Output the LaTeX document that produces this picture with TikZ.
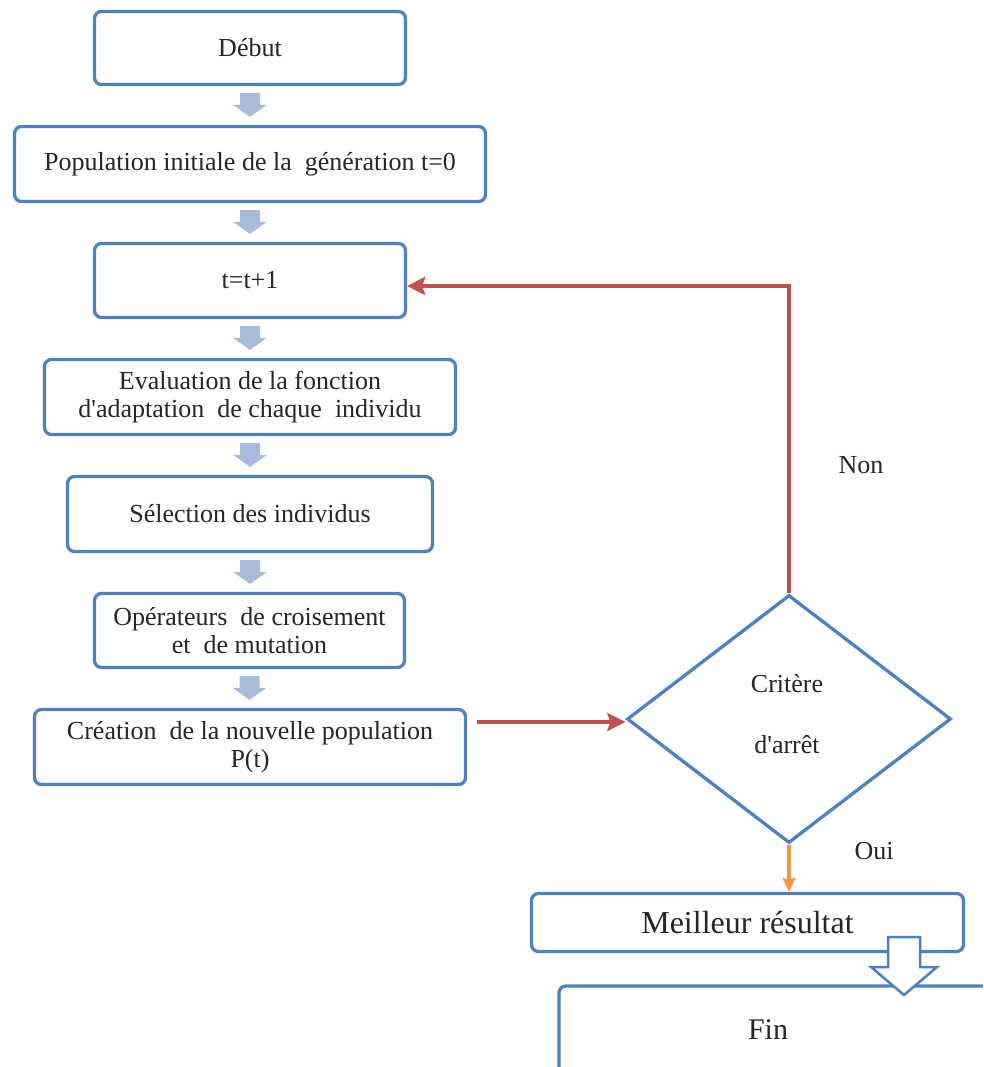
\documentclass[tikz,border=0pt]{standalone}
\usepackage{fontspec}
\setmainfont{Liberation Serif}
\usetikzlibrary{shapes.geometric,arrows.meta,calc}
\definecolor{boxblue}{RGB}{79,129,189}
\definecolor{lightarrow}{RGB}{167,188,221}
\definecolor{redline}{RGB}{192,80,77}
\definecolor{orangeline}{RGB}{247,150,70}
\definecolor{txt}{RGB}{38,38,38}
\newcommand\blkarrow[2]{%
  \path let \p1=(#1.south), \p2=(#2.north) in
    [fill=lightarrow] (\x1-10pt,\y1-7pt) -- (\x1+10pt,\y1-7pt) -- (\x1+10pt,\y2+20pt)
    -- (\x1+17pt,\y2+20pt) -- (\x1,\y2+8pt) -- (\x1-17pt,\y2+20pt) -- (\x1-10pt,\y2+20pt) -- cycle;}
\newcommand\sq{\textquotesingle}
\begin{document}
\begin{tikzpicture}[x=1pt,y=-1pt,
  box/.style={draw=boxblue, line width=3.3pt, rounded corners=7pt, fill=white,
    align=center, inner sep=0pt, text=txt, font=\fontsize{26}{27.5}\selectfont},
  lbl/.style={text=txt, font=\fontsize{26}{28}\selectfont, inner sep=0pt},
  decision/.style={diamond, draw=boxblue, line width=3.3pt, fill=white, inner sep=0pt},
  redarrow/.style={draw=redline, line width=4pt, -{Stealth[length=18pt,width=18pt,inset=3pt]}},
  orangearrow/.style={draw=orangeline, line width=3.5pt, -{Stealth[length=14pt,width=13pt,inset=2pt]}}
]
\useasboundingbox (0,0) rectangle (983,1067);
\clip (0,0) rectangle (983,1067);

\node[box, minimum width=311pt, minimum height=73pt] (deb) at (250,48) {Début};
\node[box, minimum width=471pt, minimum height=75pt] (pop) at (250,164) {Population initiale de la \ génération t=0};
\node[box, minimum width=311pt, minimum height=74pt] (tpl) at (250,280.5) {t=t+1};
\node[box, minimum width=411pt, minimum height=75pt] (eva) at (250,397) {Evaluation de la fonction\\d\sq adaptation \ de chaque \ individu};
\node[box, minimum width=365pt, minimum height=75pt] (sel) at (250,514) {Sélection des individus};
\node[box, minimum width=310pt, minimum height=74pt] (ope) at (249.5,630.5) {Opérateurs \ de croisement\\et \ de mutation};
\node[box, minimum width=431pt, minimum height=75pt] (cre) at (250,747) {Création \ de la nouvelle population\\P(t)};
\node[decision, minimum width=324pt, minimum height=248pt] (dia) at (789,719) {};
\node[box, minimum width=432pt, minimum height=58pt, font=\fontsize{32}{34}\selectfont] (mr) at (747.5,922.5) {Meilleur résultat};
\node[box, minimum width=450pt, minimum height=88pt, font=\fontsize{30}{32}\selectfont] (fin) at (784,1030) {Fin\hspace*{32pt}};

\node[lbl] (crit) at (787,684) {Critère};
\node[lbl] (arret) at (787,745) {d\sq arrêt};
\node[lbl] (non) at (861,465) {Non};
\node[lbl] (oui) at (874,851) {Oui};

\blkarrow{deb}{pop}
\blkarrow{pop}{tpl}
\blkarrow{tpl}{eva}
\blkarrow{eva}{sel}
\blkarrow{sel}{ope}
\blkarrow{ope}{cre}

\draw[redarrow] (dia.north) |- ($(tpl.east)+(0,5.5)$);
\draw[redarrow] ($(cre.east |- dia.west)+(9.5,3)$) -- ($(dia.west)+(0,3)$);
\draw[orangearrow] (dia.south) -- (dia.south |- mr.north);

\draw[draw=boxblue, line width=2.5pt, fill=white, line join=miter]
  (888,937) -- (920,937) -- (920,967) -- (937,967) -- (904,995) -- (871,967) -- (888,967) -- cycle;
\end{tikzpicture}
\end{document}
